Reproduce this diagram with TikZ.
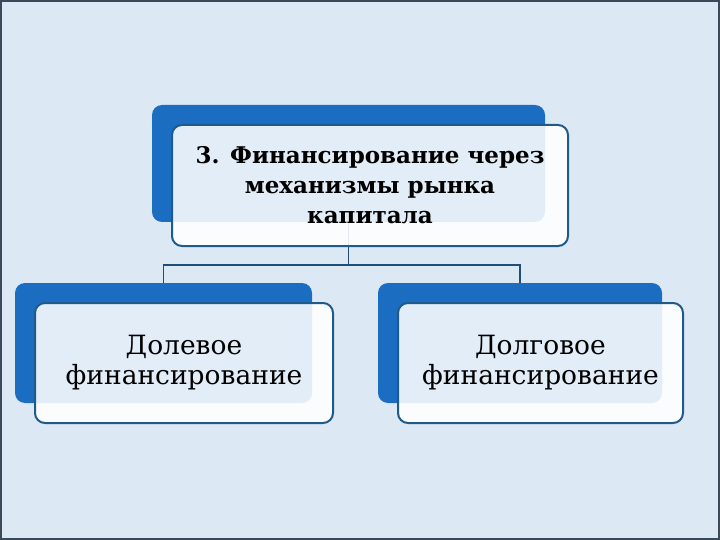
\documentclass[tikz,border=0pt]{standalone}
\usepackage{fontspec}
\setmainfont{DejaVu Serif}
\definecolor{Sky}{HTML}{DDE8F5}
\definecolor{Cobalt}{HTML}{1B6DC1}
\definecolor{Steel}{HTML}{1F5A88}
\definecolor{Ink}{HTML}{1F4E78}
\definecolor{Frame}{HTML}{3A4A5A}
\usetikzlibrary{positioning,calc}

\begin{document}
\begin{tikzpicture}[
  x=1pt,y=-1pt,
  backbox/.style={rounded corners=10pt,fill=Cobalt,inner sep=0pt,outer sep=0pt},
  facebox/.style={rounded corners=10pt,draw=Steel,line width=2pt,fill=white,
    fill opacity=.88,text opacity=1,inner sep=0pt,align=center,
    font=\fontsize{26.5}{30}\selectfont},
  link/.style={draw=Ink,line width=1.3pt}
]
\fill[Sky] (0,0) rectangle (720,540);
\draw[Frame,line width=2pt] (1,1) rectangle (719,539);
\useasboundingbox (0,0) rectangle (720,540);
\node[backbox,minimum width=393pt,minimum height=117pt] (topback) at (348.5,163.5) {};
\node[backbox,minimum width=297pt,minimum height=120pt] (leftback) at (163.5,343) {};
\node[backbox,minimum width=284pt,minimum height=120pt] (rightback) at (520,343) {};
\draw[link] (topback.south) -- ++(0,43) coordinate (fork);
\draw[link] (leftback.north) |- (fork) -| (rightback.north);
\node[facebox,minimum width=396pt,minimum height=121pt,
  font=\fontsize{23}{30}\selectfont\bfseries] (topface) at (370,185.5)
  {3. Финансирование через\\механизмы рынка\\капитала};
\node[facebox,minimum width=298pt,minimum height=120pt] (leftface) at (184,363)
  {Долевое\\финансирование};
\node[facebox,minimum width=285pt,minimum height=120pt] (rightface) at (540.5,363)
  {Долговое\\финансирование};
\end{tikzpicture}
\end{document}
